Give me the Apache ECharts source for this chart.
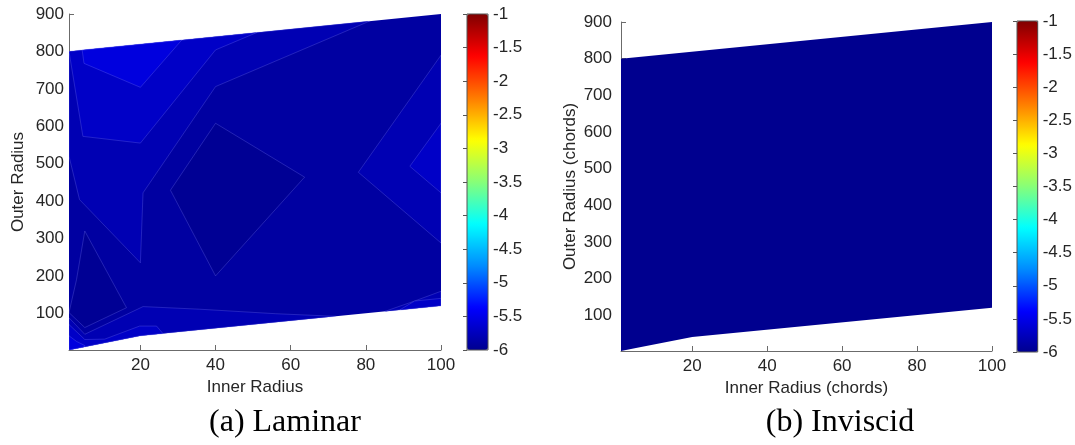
<!DOCTYPE html>
<html>
<head>
<meta charset="utf-8">
<script src="https://cdn.jsdelivr.net/npm/echarts@6/dist/echarts.min.js"></script>
<style>
  html, body { margin: 0; padding: 0; background: #fff; }
  #chart { width: 1075px; height: 445px; }
</style>
</head>
<body>
<div id="chart"></div>
<script>
// axis ticks
var innerTicks = [20, 40, 60, 80, 100]
var outerTicks = [100, 200, 300, 400, 500, 600, 700, 800, 900]

// jet colormap (matlab jet(64), sampled)
var jetColors = ['#00008F', '#0000FF', '#008BFF', '#00FFFF', '#87FF78', '#FFFF00', '#FF7C00', '#FF0000', '#800000']

// sampled domain: [inner radius, outer radius]
var domain = [[1, 2], [5, 10], [20, 40], [100, 120], [100, 900], [1, 800]]

// laminar contour regions, log10 level per region
var lamLevels = [-5.97, -5.90, -5.80, -5.69, -5.56]
var lamUpperLeft = [[1, 520], [3.8, 404], [20, 235], [20.7, 422], [40, 706], [81, 881], [1, 800]]
var lamRight = [[100, 790], [78, 477], [100, 288]]
var lamBottom = [[1, 88], [5.2, 44], [20.7, 118], [35.8, 111], [56, 99], [72, 92], [20, 40], [5, 10], [1, 2]]
var lamBottomRight = [[100, 159], [93, 133], [85, 105], [100, 120]]
var lamTop = [[1, 800], [4.7, 573], [20, 555], [40, 804], [51, 850.5]]
var lamRightInner = [[100, 608], [91.7, 493], [100, 422]]
var lamBottomInner = [[1, 70], [5.2, 30], [10.5, 31], [19.8, 66], [24.3, 66], [26, 46], [20, 40], [5, 10], [1, 2]]
var lamBottomRightInner = [[100, 140], [93, 133], [89, 109], [100, 120]]
var lamTopPeak = [[4.5, 803.5], [5, 768], [20, 704], [31, 830.3]]
var lamCornerPeak = [[1, 2], [1, 40], [3, 25], [5.2, 14], [5, 10]]
var lamDiamond = [[40, 608], [63.7, 464], [40, 200], [28, 429]]
var lamTriangle = [[1, 102], [3, 190], [5.2, 320], [16.3, 115], [5.2, 62]]

// inviscid: one flat level
var invLevel = -6

var lamPatches = [
  [domain, lamLevels[1]],
  [lamUpperLeft, lamLevels[2]],
  [lamRight, lamLevels[2]],
  [lamBottom, lamLevels[2]],
  [lamBottomRight, lamLevels[2]],
  [lamTop, lamLevels[3]],
  [lamRightInner, lamLevels[3]],
  [lamBottomInner, lamLevels[3]],
  [lamBottomRightInner, lamLevels[3]],
  [lamTopPeak, lamLevels[4]],
  [lamCornerPeak, lamLevels[4]],
  [lamDiamond, lamLevels[0]],
  [lamTriangle, lamLevels[0]]
]
var invPatches = [[domain, invLevel]]

var font = 'Liberation Sans'
var txt = '#262626'

function patchRender (patches) {
  return function (params, api) {
    var poly = patches[api.value(0)][0]
    var pts = poly.map(function (p) { return api.coord(p) })
    return {
      type: 'polygon',
      shape: { points: pts },
      style: {
        fill: api.visual('color'),
        stroke: params.dataIndex === 0 ? null : 'rgba(140,140,255,0.5)',
        lineWidth: 0.5
      }
    }
  }
}

function xAx (gi, name) {
  return {
    type: 'value', gridIndex: gi, min: 1, max: 100,
    name: name, nameLocation: 'middle', nameGap: 27,
    nameTextStyle: { color: txt, fontSize: 17, fontFamily: font },
    axisLine: { show: true, lineStyle: { color: '#6b6b6b', width: 1 } },
    axisTick: { show: true, inside: true, length: 5, customValues: innerTicks, lineStyle: { color: '#6b6b6b' } },
    axisLabel: { customValues: innerTicks, color: txt, fontSize: 17, fontFamily: font, margin: 7 },
    splitLine: { show: false }
  }
}
function yAx (gi, name, gap, margin) {
  return {
    type: 'value', gridIndex: gi, min: 2, max: 900,
    name: name, nameLocation: 'middle', nameGap: gap,
    nameTextStyle: { color: txt, fontSize: 17, fontFamily: font },
    axisLine: { show: true, lineStyle: { color: '#6b6b6b', width: 1 } },
    axisTick: { show: true, inside: true, length: 5, customValues: outerTicks, lineStyle: { color: '#6b6b6b' } },
    axisLabel: { customValues: outerTicks, color: txt, fontSize: 17, fontFamily: font, margin: margin },
    splitLine: { show: false }
  }
}
function barX (gi) {
  return { type: 'value', gridIndex: gi, min: 0, max: 1, show: false }
}
function barY (gi) {
  return {
    type: 'value', gridIndex: gi, min: -6, max: -1, interval: 0.5, position: 'right', z: 10,
    axisLine: { show: false },
    axisTick: { show: true, inside: true, length: 4, lineStyle: { color: '#555' } },
    axisLabel: { color: txt, fontSize: 17, fontFamily: font, margin: 5 },
    splitLine: { show: false }
  }
}
function bar (si, left, top, h) {
  return {
    type: 'continuous', seriesIndex: si, dimension: 1, min: -6, max: -1,
    left: left, top: top, itemWidth: 21, itemHeight: h, padding: 0,
    calculable: false, hoverLink: false,
    inRange: { color: jetColors }
  }
}

var myChart = echarts.init(document.getElementById('chart'))
var option = {
  backgroundColor: '#fff',
  animation: false,
  grid: [
    { left: 69, top: 14, width: 372, height: 336 },
    { left: 467, top: 14, width: 21, height: 336, show: true, borderColor: '#555', borderWidth: 1, backgroundColor: 'transparent', z: 10 },
    { left: 621, top: 22, width: 371, height: 329 },
    { left: 1017, top: 21, width: 21, height: 331, show: true, borderColor: '#555', borderWidth: 1, backgroundColor: 'transparent', z: 10 }
  ],
  xAxis: [xAx(0, 'Inner Radius'), barX(1), xAx(2, 'Inner Radius (chords)'), barX(3)],
  yAxis: [yAx(0, 'Outer Radius', 42, 5), barY(1), yAx(2, 'Outer Radius (chords)', 42, 9), barY(3)],
  visualMap: [bar(0, 467, 14, 336), bar(1, 1017, 21, 331)],
  series: [
    {
      type: 'custom', xAxisIndex: 0, yAxisIndex: 0, clip: true,
      renderItem: patchRender(lamPatches),
      data: lamPatches.map(function (p, i) { return [i, p[1]] })
    },
    {
      type: 'custom', xAxisIndex: 2, yAxisIndex: 2, clip: true,
      renderItem: patchRender(invPatches),
      data: invPatches.map(function (p, i) { return [i, p[1]] })
    }
  ],
  graphic: [
    { type: 'text', x: 285, y: 423, style: { text: '(a) Laminar', font: '32px "Liberation Serif"', fill: '#000', textAlign: 'center', textVerticalAlign: 'middle' } },
    { type: 'text', x: 840, y: 423, style: { text: '(b) Inviscid', font: '32px "Liberation Serif"', fill: '#000', textAlign: 'center', textVerticalAlign: 'middle' } }
  ]
}
myChart.setOption(option)
</script>
</body>
</html>
